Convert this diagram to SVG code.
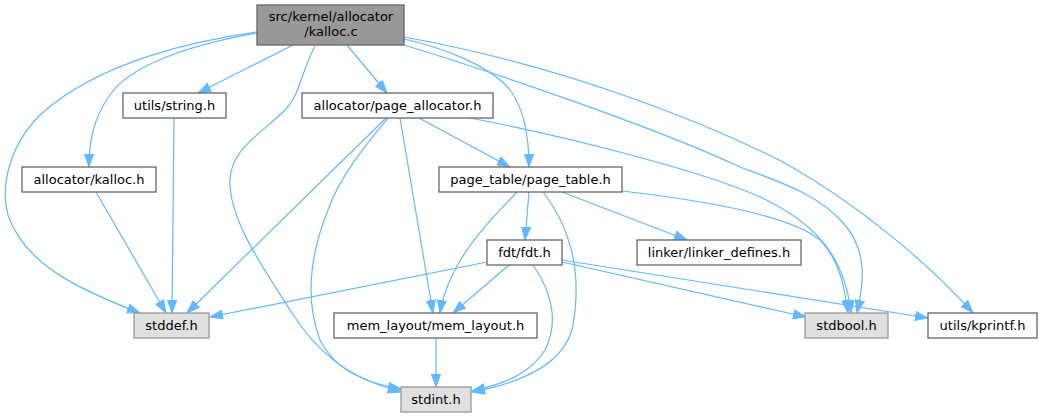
<svg xmlns="http://www.w3.org/2000/svg" width="1042" height="417" viewBox="0 0 1042 417">
<defs>
<style>
.n rect{fill:#ffffff;stroke:#666666;stroke-width:1.3}
.n.root rect{fill:#999999;stroke:#666666}
.n.sys rect{fill:#e0e0e0;stroke:#999999}
.n text{font-family:"DejaVu Sans","Liberation Sans",sans-serif;font-size:13px;fill:#000000;text-anchor:middle}
#edges path{fill:none;stroke:#63b8ff;stroke-width:1.2;marker-end:url(#arr)}
</style>
<marker id="arr" markerUnits="userSpaceOnUse" markerWidth="14" markerHeight="10" refX="13" refY="5" orient="auto">
<path d="M0,0.4 L13,5 L0,9.6 z" fill="#63b8ff" stroke="#63b8ff" stroke-width="1"/>
</marker>
</defs>
<rect width="1042" height="417" fill="#ffffff"/>
<g id="edges">
<path d="M257,32 C200,40 100,60 40,115 C10,145 0,185 8,215 C25,265 80,290 140,313"/>
<path d="M257,33 C190,45 130,65 110,95 C92,120 89,145 89,167"/>
<path d="M293,45 L198,93"/>
<path d="M315,46 C300,75 300,95 285,110 C260,135 228,150 230,185 C232,225 265,270 290,310 C315,350 345,377 401,392"/>
<path d="M347,45 L387,93"/>
<path d="M404,39 C440,47 490,65 510,90 C525,110 529,140 529,167"/>
<path d="M404,45 C480,68 650,125 740,167 C780,182 820,195 845,225 C870,255 862,290 857,313"/>
<path d="M404,37 C560,65 700,120 783,162 C860,205 930,265 973,313"/>
<path d="M386,118 L187,313"/>
<path d="M388,118 C370,140 340,175 328,210 C310,255 305,300 320,340 C335,370 365,383 401,389"/>
<path d="M400,118 L433,313"/>
<path d="M419,118 L510,167"/>
<path d="M470,118 C560,135 700,170 760,197 C820,225 845,260 851,313"/>
<path d="M174,118 L172,313"/>
<path d="M96,192 L166,313"/>
<path d="M529,192 L525,240"/>
<path d="M517,192 C495,215 470,240 455,270 C447,285 442,300 440,313"/>
<path d="M543,192 C565,220 585,265 572,330 C560,370 510,385 472,392"/>
<path d="M562,192 L687,240"/>
<path d="M622,191 C700,200 790,215 820,240 C840,260 845,290 848,313"/>
<path d="M487,262 L210,317"/>
<path d="M509,265 L453,313"/>
<path d="M533,265 C550,290 560,320 545,350 C530,375 500,385 472,391"/>
<path d="M562,262 L806,317"/>
<path d="M562,260 L928,318"/>
<path d="M436,338 L436,387"/>
</g>
<g id="n_root" class="n root"><rect x="257" y="5" width="147" height="40"/><text x="331" y="21">src/kernel/allocator</text><text x="331" y="36">/kalloc.c</text></g>
<g id="n_string" class="n"><rect x="123" y="93" width="103" height="25"/><text x="174.5" y="110">utils/string.h</text></g>
<g id="n_page_allocator" class="n"><rect x="302" y="93" width="191" height="25"/><text x="397.5" y="110">allocator/page_allocator.h</text></g>
<g id="n_kalloc_h" class="n"><rect x="22" y="167" width="134" height="25"/><text x="89" y="184">allocator/kalloc.h</text></g>
<g id="n_page_table" class="n"><rect x="439" y="167" width="183" height="25"/><text x="530.5" y="184">page_table/page_table.h</text></g>
<g id="n_fdt" class="n"><rect x="487" y="240" width="75" height="25"/><text x="524.5" y="257">fdt/fdt.h</text></g>
<g id="n_linker" class="n"><rect x="637" y="240" width="164" height="25"/><text x="719" y="257">linker/linker_defines.h</text></g>
<g id="n_stddef" class="n sys"><rect x="134" y="313" width="75" height="25"/><text x="171.5" y="330">stddef.h</text></g>
<g id="n_mem_layout" class="n"><rect x="334" y="313" width="203" height="25"/><text x="435.5" y="330">mem_layout/mem_layout.h</text></g>
<g id="n_stdbool" class="n sys"><rect x="805" y="313" width="83" height="25"/><text x="846.5" y="330">stdbool.h</text></g>
<g id="n_kprintf" class="n"><rect x="928" y="313" width="109" height="25"/><text x="982.5" y="330">utils/kprintf.h</text></g>
<g id="n_stdint" class="n sys"><rect x="401" y="387" width="70" height="25"/><text x="436" y="404">stdint.h</text></g>
</svg>
